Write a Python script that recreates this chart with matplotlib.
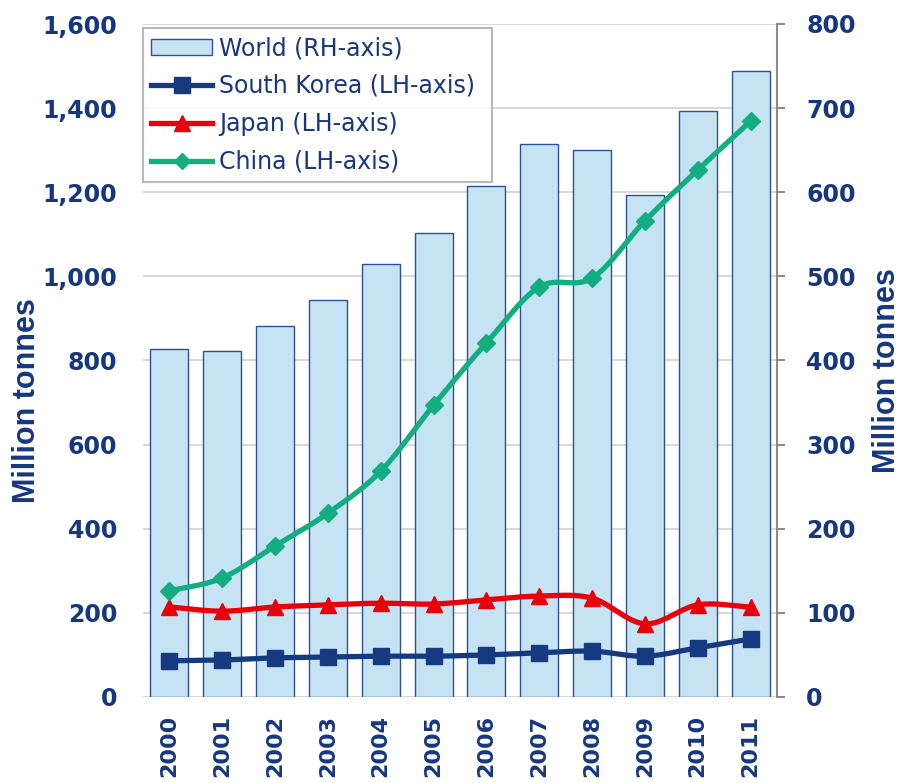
import numpy as np
import matplotlib
matplotlib.use("Agg")
import matplotlib.pyplot as plt
from matplotlib.lines import Line2D
from matplotlib.patches import Patch

years = ["2000", "2001", "2002", "2003", "2004", "2005",
         "2006", "2007", "2008", "2009", "2010", "2011"]
world = [414, 411, 441, 472, 515, 552, 607, 657, 650, 597, 697, 744]
south_korea = [86, 88, 93, 95, 97, 97, 100, 105, 109, 97, 117, 138]
japan = [214, 204, 214, 219, 223, 221, 231, 240, 235, 174, 219, 214]
china = [252, 283, 359, 437, 537, 694, 842, 975, 996, 1132, 1253, 1369]

TXT = "#16377E"
GRID = "#D6D6D6"
BAR = "#C5E3F3"
BAREDGE = "#2F4F93"
C_SK = "#153A80"
C_JP = "#E8000B"
C_CN = "#12AE80"


def smooth(x, y, n=20):
    # Catmull-Rom rendering of a smoothed line through the data points
    x = np.asarray(x, float); y = np.asarray(y, float)
    px = np.concatenate([[2 * x[0] - x[1]], x, [2 * x[-1] - x[-2]]])
    py = np.concatenate([[2 * y[0] - y[1]], y, [2 * y[-1] - y[-2]]])
    xs, ys = [], []
    t = np.linspace(0, 1, n, endpoint=False)
    for i in range(1, len(px) - 2):
        for arr, a in ((ys, py), (xs, px)):
            a0, a1, a2, a3 = a[i - 1], a[i], a[i + 1], a[i + 2]
            arr.extend(0.5 * ((2 * a1) + (-a0 + a2) * t +
                              (2 * a0 - 5 * a1 + 4 * a2 - a3) * t ** 2 +
                              (-a0 + 3 * a1 - 3 * a2 + a3) * t ** 3))
    xs.append(x[-1]); ys.append(y[-1])
    return np.array(xs), np.array(ys)


W, H = 904, 783
fig = plt.figure(figsize=(W / 100, H / 100), dpi=100)
L, R, T, B = 143, 777, 24, 697
ax = fig.add_axes([L / W, 1 - B / H, (R - L) / W, (B - T) / H])
ax2 = ax.twinx()

x = np.arange(len(years))

# bars on right axis
ax2.bar(x, world, width=0.72, color=BAR, edgecolor=BAREDGE,
        linewidth=1.0, zorder=2)
ax2.set_ylim(0, 800)
ax2.set_yticks(np.arange(0, 801, 100))
for v in np.arange(0, 801, 100):
    ax2.axhline(v, color=GRID, lw=1.3, zorder=0)

ax.set_zorder(ax2.get_zorder() + 1)
ax.patch.set_visible(False)
ax2.patch.set_visible(False)

series = [
    (south_korea, C_SK, "s", 11),
    (japan, C_JP, "^", 12),
    (china, C_CN, "D", 9),
]
for vals, col, mk, ms in series:
    sx, sy = smooth(x, vals)
    ax.plot(sx, sy, color=col, lw=3.8, solid_capstyle="round", zorder=3)
    ax.plot(x, vals, ls="none", marker=mk, ms=ms, color=col, zorder=4)

ax.set_ylim(0, 1600)
ax.set_yticks(np.arange(0, 1601, 200))
ax.set_yticklabels([f"{v:,}" for v in range(0, 1601, 200)])
ax.set_xlim(-0.5, len(years) - 0.5)
ax.set_xticks(x)
ax.set_xticklabels(years, rotation=90)

for a in (ax, ax2):
    for s in a.spines.values():
        s.set_visible(False)
ax2.spines["right"].set_visible(True)
ax2.spines["right"].set_color("#8C8C8C")
ax2.spines["right"].set_linewidth(1.5)

ax.tick_params(axis="y", length=0, labelsize=17, labelcolor=TXT, pad=18.5)
ax.tick_params(axis="x", length=0, labelsize=16, labelcolor=TXT, pad=13)
ax2.tick_params(axis="y", length=6, width=1.5, color="#8C8C8C", labelsize=17,
                labelcolor=TXT, pad=15)
for lab in ax.get_yticklabels() + ax.get_xticklabels() + ax2.get_yticklabels():
    lab.set_fontweight("bold")
    lab.set_family("DejaVu Sans")

lab_font = dict(family=["Liberation Sans", "DejaVu Sans"],
                fontweight="bold", fontsize=22, color=TXT, rotation=90,
                ha="center", va="center")
fig.text(27 / W, 1 - 401 / H, "Million tonnes", **lab_font)
fig.text(887 / W, 1 - 371 / H, "Million tonnes", **lab_font)

handles = [
    Patch(facecolor=BAR, edgecolor=BAREDGE, linewidth=1.0),
    Line2D([], [], color=C_SK, lw=3.8, marker="s", ms=11),
    Line2D([], [], color=C_JP, lw=3.8, marker="^", ms=11),
    Line2D([], [], color=C_CN, lw=3.8, marker="D", ms=8),
]
labels = ["World (RH-axis)", "South Korea (LH-axis)", "Japan (LH-axis)", "China (LH-axis)"]
ax_h = B - T
leg_w = (492 - L) / (R - L)
leg = ax.legend(handles, labels, loc="upper left",
                bbox_to_anchor=(0.0, 1 - 4 / ax_h - 0.3, leg_w, 0.3),
                mode="expand",
                fontsize=17, frameon=True, fancybox=False, edgecolor="#A6A6A6",
                handlelength=2.6, handleheight=0.65, handletextpad=0.3,
                labelspacing=0.59, borderpad=0.34, borderaxespad=0.0)
leg.get_frame().set_linewidth(1.5)
for t in leg.get_texts():
    t.set_color(TXT)
leg.set_zorder(10)

fig.savefig("out.png", dpi=100)
